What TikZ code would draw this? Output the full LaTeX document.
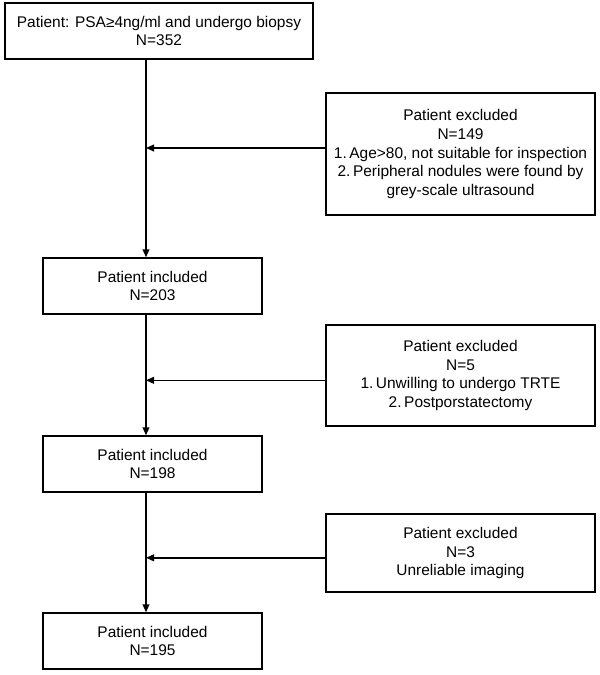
\documentclass[tikz,border=0pt]{standalone}
\usepackage{fontspec}
\setmainfont{Liberation Sans}
\usetikzlibrary{arrows.meta,positioning,calc}

\begin{document}
\begin{tikzpicture}
[
inbox/.style={rectangle, draw=black, line width=1pt, align=center, inner sep=0pt, font=\fontsize{11}{13.2}\selectfont},
exbox/.style={inbox, minimum width=6.725cm},
pathline/.style={line width=1pt, -{Triangle[length=2mm,width=1.7mm]}},
]
\useasboundingbox (0,0) rectangle (15,-16.875);
%draw the included boxes
\node[inbox, minimum width=7.7cm, minimum height=1.4cm] (top) at (3.975,-0.775)
  {Patient: PSA≥4ng/ml and undergo biopsy\\N=352};
\node[inbox, minimum width=5.475cm, minimum height=1.4cm] (in1) at (3.8125,-7.15)
  {Patient included\\N=203};
\node[inbox, minimum width=5.475cm, minimum height=1.4cm] (in2) at (3.8125,-11.6)
  {Patient included\\N=198};
\node[inbox, minimum width=5.475cm, minimum height=1.4cm] (in3) at (3.8125,-16.025)
  {Patient included\\N=195};
%draw the excluded boxes
\node[exbox, minimum height=3.05cm] (ex1) at (11.5125,-3.85)
  {Patient excluded\\N=149\\1.\,Age>80, not suitable for inspection\\2.\,Peripheral nodules were found by\\grey-scale ultrasound};
\node[exbox, minimum height=2.525cm] (ex2) at (11.5125,-9.3875)
  {Patient excluded\\N=5\\1.\,Unwilling to undergo TRTE\\2.\,Postporstatectomy};
\node[exbox, minimum height=1.95cm] (ex3) at (11.5125,-13.825)
  {Patient excluded\\N=3\\Unreliable imaging};
%draw the main line
\coordinate (spine) at (3.65,0);
\draw[pathline] (top.south -| spine) -- (in1.north -| spine);
\draw[pathline] (in1.south -| spine) -- (in2.north -| spine);
\draw[pathline] (in2.south -| spine) -- (in3.north -| spine);
%draw the side arrows
\draw[pathline] ([yshift=0.15cm]ex1.west) -- ([yshift=0.15cm]ex1.west -| spine);
\draw[pathline] ([yshift=-0.12cm]ex2.west) -- ([yshift=-0.12cm]ex2.west -| spine);
\draw[pathline] ([yshift=-0.12cm]ex3.west) -- ([yshift=-0.12cm]ex3.west -| spine);
\end{tikzpicture}
\end{document}
